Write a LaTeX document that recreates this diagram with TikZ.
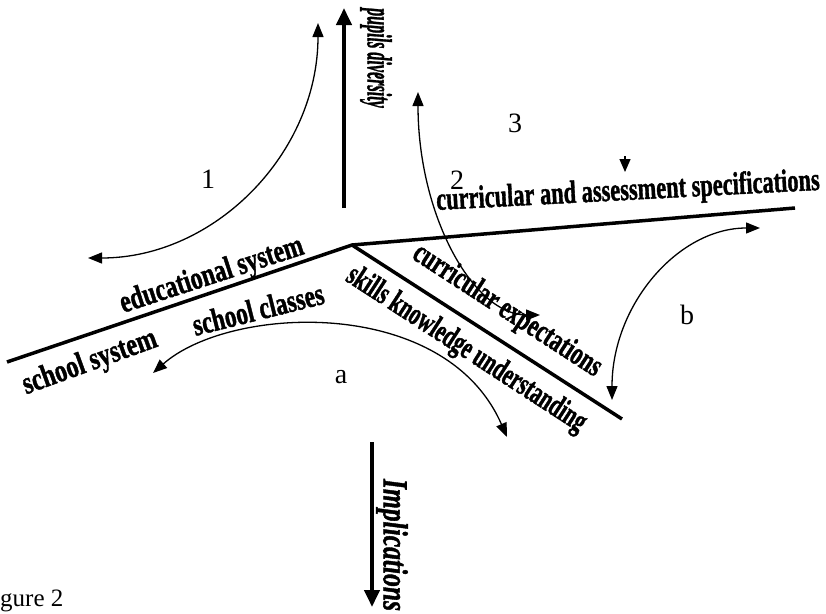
\documentclass[tikz,border=0pt]{standalone}
\usepackage{fontspec}
\setmainfont{Liberation Serif}
\newfontfamily\heavyfont[FakeBold=1.5]{Liberation Serif Bold}
\newfontfamily\heavyitfont[FakeBold=1.5]{Liberation Serif Bold Italic}
\usepackage{graphicx}
\usetikzlibrary{arrows.meta}

\newcommand{\squeeze}[2]{\scalebox{#1}[1]{#2}}

\begin{document}
\begin{tikzpicture}[x=1pt, y=-1pt,
    axis/.style={line width=4pt, -{Triangle[length=17pt,width=15pt]}},
    rib/.style={line width=3.5pt, line join=miter},
    link/.style={line width=1.3pt,
      {Triangle[length=14pt,width=11pt]}-{Triangle[length=14pt,width=11pt]}},
    lbl/.style={inner sep=0pt, font=\fontsize{32}{32}\selectfont\heavyfont},
    vlbl/.style={inner sep=0pt, rotate=-90, font=\fontsize{35}{35}\selectfont\heavyitfont},
    num/.style={inner sep=0pt, font=\fontsize{28}{28}\selectfont}]
  \useasboundingbox (0,0) rectangle (826,613);

  % the three ribs
  \coordinate (hub) at (352,245);
  \coordinate (west) at (7,362);
  \coordinate (east) at (795,208);
  \coordinate (south) at (622,419);
  \draw[rib] (west) -- (hub) -- (east);
  \draw[rib] (hub) -- (south);

  % vertical axes
  \coordinate (pdbot) at (344,208);
  \coordinate (pdtop) at (344,8);
  \coordinate (imtop) at (372,442);
  \coordinate (imbot) at (372,607);
  \draw[axis] (pdbot) -- (pdtop);
  \draw[axis] (imtop) -- (imbot);

  % curved links
  \coordinate (l1a) at (88,258);  \coordinate (l1b) at (318,23);
  \coordinate (l2a) at (418,92);  \coordinate (l2b) at (540,315);
  \coordinate (lAa) at (153,373); \coordinate (lAb) at (507,437);
  \coordinate (lBa) at (612,400); \coordinate (lBb) at (760,228);
  \coordinate (l3a) at (625,156); \coordinate (l3b) at (625,172);
  \draw[link] (l1a) .. controls (215,258) and (318,153) .. (l1b);
  \draw[link] (l2a) .. controls (418,215) and (473,315) .. (l2b);
  \draw[link] (lAa) .. controls (230,305) and (445,295) .. (lAb);
  \draw[link] (lBa) .. controls (612,305) and (678,228) .. (lBb);
  \draw[line width=1.3pt, -{Triangle[length=13pt,width=11pt]}] (l3a) -- (l3b);

  % labels
  \node[lbl, rotate=18] (edu) at (212,276) {\squeeze{0.74}{educational system}};
  \node[lbl, rotate=20] (schsys) at (90,363) {\squeeze{0.76}{school system}};
  \node[lbl, rotate=14] (schcls) at (258,309) {\squeeze{0.73}{school classes}};
  \node[lbl, rotate=-33] (skills) at (466,350) {\squeeze{0.65}{skills knowledge understanding}};
  \node[lbl, rotate=-33] (currexp) at (507,311) {\squeeze{0.69}{curricular expectations}};
  \node[lbl, rotate=3] (currspec) at (628,192) {\squeeze{0.7}{curricular and assessment specifications}};
  \node[vlbl] (pupils) at (376,58) {\squeeze{0.46}{pupils diversity}};
  \node[vlbl] (impl) at (392,545) {\squeeze{0.73}{Implications}};

  \node[num] (n1) at (208,179) {1};
  \node[num] (n2) at (457,180) {2};
  \node[num] (n3) at (515,123) {3};
  \node[num] (na) at (341,377) {a};
  \node[num] (nb) at (687,315) {b};
  \node[inner sep=0pt, anchor=base west, font=\fontsize{25}{25}\selectfont] (fig) at (0,606) {gure 2};
\end{tikzpicture}
\end{document}
